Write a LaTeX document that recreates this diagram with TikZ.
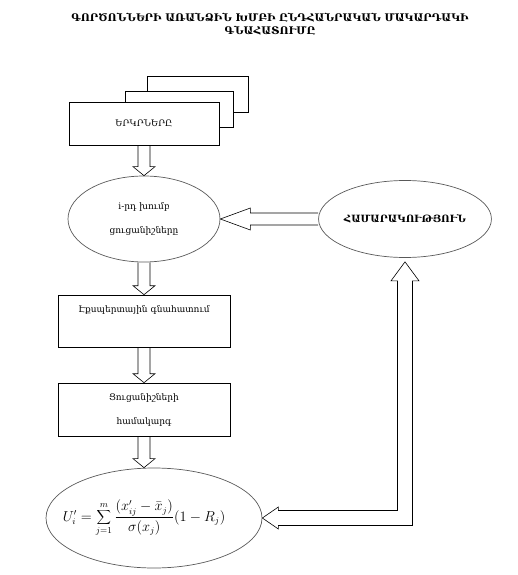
\documentclass[tikz,border=0pt]{standalone}
\usepackage{fontspec}
\setmainfont{DejaVu Serif}
\usetikzlibrary{shapes.geometric,calc}

\begin{document}
\begin{tikzpicture}[x=1pt,y=-1pt]
\tikzset{kbox/.style={draw,fill=white,line width=0.6pt,inner sep=0pt,align=center,font=\fontsize{9}{24}\selectfont},
ebox/.style={draw=black!65,line width=0.7pt,ellipse,inner sep=0pt,align=center,font=\fontsize{9}{24}\selectfont},
blk/.style={draw,line width=0.6pt,line join=miter}}
\useasboundingbox (0,0) rectangle (518,575);
% title
\node[font=\bfseries\fontsize{10.5}{13}\selectfont,align=center] (title) at (270,24)
  {ԳՈՐԾՈՆՆԵՐԻ ԱՌԱՆՁԻՆ ԽՄԲԻ ԸՆԴՀԱՆՐԱԿԱՆ ՄԱԿԱՐԴԱԿԻ\\ԳՆԱՀԱՏՈՒՄԸ};
% stacked boxes
\node[kbox,minimum width=101pt,minimum height=36pt] (k1b) at (197.5,94) {};
\node[kbox,minimum width=108pt,minimum height=36pt] (k1a) at (179,109) {};
\node[kbox,minimum width=150pt,minimum height=43pt] (k1) at (144,123.5) {ԵՐԿՐՆԵՐԸ};
% column
\node[ebox,minimum width=152pt,minimum height=86pt] (e1) at (144,219) {i-րդ խումբ\\ցուցանիշները};
\node[kbox,minimum width=172pt,minimum height=52pt] (k3) at (144,321) {Էքսպերտային գնահատում\\\mbox{}};
\node[kbox,minimum width=172pt,minimum height=53pt] (k4) at (144,409.5) {Ցուցանիշների\\համակարգ};
\node[ebox,minimum width=216pt,minimum height=100pt,font=\fontsize{13.5}{15}\selectfont] (f) at (154,518)
  {\makebox[0pt]{\hspace{-20pt}$\displaystyle U'_i=\sum_{j=1}^{m}\frac{(x'_{ij}-\bar{x}_j)}{\sigma(x_j)}(1-R_j)$}};
\node[ebox,minimum width=144pt,minimum height=77pt,font=\bfseries\fontsize{10}{12}\selectfont] (e2) at (405,219) {ՀԱՄԱՐԱԿՈՒԹՅՈՒՆ};
% hollow arrows down the column
\foreach \a/\b in {k1/e1,e1/k3,k3/k4,k4/f}
  \draw[blk] ($(\a.south)+(-6,0)$) -- ($(\a.south |- \b.north)+(-6,-9)$) -- ++(-5,0)
    -- (\a.south |- \b.north) -- ($(\a.south |- \b.north)+(11,-9)$) -- ++(-5,0) -- ($(\a.south)+(6,0)$);
% feedback arrow
\draw[blk] ($(e2.west)+(0,-6)$) -- ($(e1.east)+(30,-6)$) -- ++(0,-5) -- (e1.east)
  -- ($(e1.east)+(30,11)$) -- ++(0,-5) -- ($(e2.west)+(0,6)$);
% L-shaped double arrow
\coordinate (up) at ($(e2.south)+(0,4)$);
\coordinate (crn) at (up |- f.east);
\draw[blk] (f.east) -- ($(f.east)+(16,-11)$) -- ++(0,3.5) -- ($(crn)+(-7.5,-7.5)$)
  -- ($(up)+(-7.5,19)$) -- ++(-6.5,0) -- (up) -- ($(up)+(14,19)$) -- ++(-6.5,0)
  -- ($(crn)+(7.5,7.5)$) -- ($(f.east)+(16,7.5)$) -- ++(0,3.5) -- cycle;
\end{tikzpicture}
\end{document}
